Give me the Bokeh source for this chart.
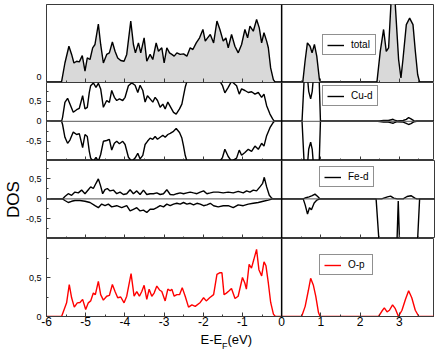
from bokeh.plotting import figure
from bokeh.layouts import column
from bokeh.models import (Span, Legend, LegendItem, FixedTicker, CustomJSTickFormatter,
                          Label, Range1d)
from bokeh.embed import file_html
from bokeh.resources import INLINE

FONT = "Liberation Sans"

# ---------------- data ----------------
total_x = [-6.0, -5.658, -5.615, -5.530, -5.428, -5.359, -5.300, -5.231, -5.163, -5.087, -5.018,
           -4.959, -4.890, -4.822, -4.763, -4.677, -4.618, -4.549, -4.464, -4.396, -4.319, -4.251,
           -4.183, -4.106, -4.021, -3.953, -3.850, -3.782, -3.731, -3.654, -3.595, -3.509, -3.441,
           -3.356, -3.288, -3.202, -3.143, -3.058, -2.998, -2.930, -2.861, -2.802, -2.742, -2.674,
           -2.589, -2.503, -2.418, -2.333, -2.265, -2.179, -2.094, -2.009, -1.949, -1.890, -1.821,
           -1.736, -1.651, -1.576, -1.491, -1.423, -1.363, -1.278, -1.193, -1.108, -1.022, -0.937,
           -0.869, -0.809, -0.724, -0.639, -0.571, -0.511, -0.451, -0.383, -0.340, -0.281, -0.212,
           -0.161, 0.538, 0.597, 0.657, 0.725, 0.776, 0.836, 0.896, 0.964, 0.998, 2.430, 2.516,
           2.601, 2.669, 2.729, 2.788, 2.840, 2.899, 2.984, 3.044, 3.095, 3.181, 3.266, 3.351,
           3.411, 3.470, 3.522, 3.9]
total_y = [0, 0, 0.05, 1.0, 1.86, 1.44, 1.0, 1.09, 1.06, 1.38, 0.58,
           1.26, 1.18, 1.78, 1.95, 3.0, 1.95, 1.0, 1.44, 1.52, 2.08, 1.6,
           1.26, 1.13, 1.09, 1.44, 3.15, 1.95, 1.52, 2.03, 1.52, 2.29, 1.09,
           1.44, 1.18, 2.03, 1.6, 1.78, 1.0, 1.78, 1.52, 1.44, 1.35, 1.52,
           1.44, 1.47, 1.35, 1.78, 1.69, 2.03, 2.29, 2.72, 2.12, 2.29, 2.46,
           2.03, 3.15, 2.72, 2.12, 2.29, 1.78, 2.46, 1.86, 1.52, 1.95, 2.72,
           2.29, 2.89, 2.63, 3.23, 2.8, 2.03, 2.55, 2.12, 1.78, 0.75, 0.15,
           0, 0, 1.09, 2.03, 1.86, 1.52, 1.95, 1.35, 0.15, 0, 0, 1.6,
           2.72, 1.6, 1.78, 4.0, 4.6, 4.0, 1.18, 0.24, 1.18, 2.97, 3.3, 2.97,
           1.6, 0.41, 0, 0]

cud_x = [-6.0, -5.615, -5.590, -5.530, -5.462, -5.402, -5.317, -5.231, -5.163, -5.078, -5.018,
         -4.959, -4.908, -4.873, -4.805, -4.737, -4.677, -4.618, -4.549, -4.464, -4.396, -4.336,
         -4.268, -4.208, -4.140, -4.055, -3.995, -3.910, -3.825, -3.740, -3.671, -3.612, -3.543,
         -3.484, -3.424, -3.356, -3.288, -3.228, -3.168, -3.100, -3.032, -2.972, -2.904, -2.844,
         -2.759, -2.691, -2.606, -2.546, -2.503, -2.461, -2.401, -2.3, -2.1, -1.9, -1.75,
         -1.576, -1.508, -1.449, -1.363, -1.278, -1.150, -1.082, -1.022, -0.937, -0.852, -0.767,
         -0.681, -0.596, -0.511, -0.451, -0.383, -0.298, -0.230, -0.187,
         0.52, 0.57, 0.61, 0.65, 0.69, 0.74, 0.78, 0.82, 0.88, 0.93, 0.96, 0.99,
         2.45, 2.6, 2.72, 2.8, 2.84, 2.88, 2.95, 3.1, 3.18, 3.24, 3.3, 3.38, 3.45, 3.9]
cud_up = [0, 0, 0.1, 0.475, 0.575, 0.43, 0.225, 0.29, 0.325, 0.64, 0.31,
          0.35, 0.725, 0.89, 0.96, 0.85, 0.95, 0.81, 0.35, 0.52, 0.475, 0.77,
          0.6, 0.52, 0.56, 0.52, 0.6, 0.89, 0.96, 0.9, 0.72, 0.9, 0.77,
          0.48, 0.64, 0.56, 0.48, 0.6, 0.52, 0.35, 0.43, 0.31, 0.48, 0.375,
          0.225, 0.18, 0.31, 0.43, 0.64, 0.85, 1.05, 1.3, 1.4, 1.3, 1.1,
          1.0, 0.89, 0.71, 0.85, 1.0, 0.89, 0.68, 0.81, 0.77, 0.72, 0.74,
          0.68, 0.72, 0.6, 0.68, 0.39, 0.18, 0.06, 0,
          0, 0.97, 1.4, 1.2, 0.75, 0.56, 0.75, 1.2, 1.5, 1.2, 0.97, 0,
          0, 0.02, 0.02, 0.04, 0.05, 0.03, 0.01, 0.02, 0.05, 0.09, 0.06, 0.01, 0, 0]
cud_dn = [0, 0, -0.08, -0.40, -0.55, -0.47, -0.27, -0.33, -0.31, -0.66, -0.33,
          -0.38, -0.75, -0.92, -1.0, -0.90, -1.0, -0.83, -0.50, -0.48, -0.45, -0.72,
          -0.55, -0.50, -0.56, -0.50, -0.58, -0.90, -1.0, -0.92, -0.80, -0.94, -0.85,
          -0.58, -0.50, -0.42, -0.45, -0.38, -0.45, -0.40, -0.35, -0.40, -0.33, -0.30,
          -0.25, -0.18, -0.28, -0.42, -0.62, -0.85, -1.05, -1.3, -1.4, -1.3, -1.1,
          -1.0, -0.90, -0.70, -0.88, -1.0, -0.92, -0.72, -0.85, -0.78, -0.70, -0.75,
          -0.62, -0.70, -0.55, -0.62, -0.36, -0.16, -0.05, 0,
          0, -0.97, -1.4, -1.2, -0.7, -0.52, -0.7, -1.2, -1.5, -1.2, -0.97, 0,
          0, -0.02, -0.02, -0.04, -0.05, -0.03, -0.01, -0.02, -0.05, -0.08, -0.06, -0.01, 0, 0]

fed_up_x = [-6.0, -5.590, -5.530, -5.445, -5.359, -5.274, -5.189, -5.104, -5.018, -4.933, -4.873,
            -4.805, -4.737, -4.677, -4.618, -4.567, -4.507, -4.447, -4.379, -4.294, -4.208, -4.123,
            -4.038, -3.953, -3.867, -3.782, -3.697, -3.612, -3.526, -3.441, -3.356, -3.271, -3.185,
            -3.100, -3.015, -2.930, -2.844, -2.759, -2.674, -2.589, -2.503, -2.418, -2.333, -2.248,
            -2.162, -2.077, -1.992, -1.907, -1.821, -1.736, -1.619, -1.491, -1.363, -1.235, -1.108,
            -0.980, -0.894, -0.809, -0.724, -0.639, -0.554, -0.485, -0.443, -0.383, -0.315, -0.255,
            -0.213, 0.55, 0.62, 0.70, 0.78, 0.85, 0.92, 0.98,
            2.55, 2.7, 2.78, 2.86, 2.95, 3.1, 3.2, 3.3, 3.4, 3.45, 3.9]
fed_up = [0, 0, 0.06, 0.13, 0.09, 0.17, 0.15, 0.22, 0.13, 0.23, 0.30,
          0.26, 0.39, 0.50, 0.32, 0.13, 0.23, 0.26, 0.20, 0.22, 0.13, 0.17,
          0.11, 0.13, 0.23, 0.13, 0.20, 0.11, 0.22, 0.11, 0.13, 0.13, 0.15,
          0.11, 0.13, 0.23, 0.11, 0.10, 0.13, 0.15, 0.13, 0.15, 0.17, 0.15,
          0.13, 0.17, 0.20, 0.13, 0.15, 0.17, 0.17, 0.15, 0.17, 0.15, 0.19,
          0.15, 0.20, 0.17, 0.22, 0.20, 0.30, 0.39, 0.54, 0.30, 0.09, 0.02,
          0, 0, 0.03, 0.05, 0.08, 0.12, 0.06, 0,
          0, 0.05, 0.07, 0.02, 0, 0, 0.06, 0.08, 0.02, 0, 0]

fed_dn_x = [-6.0, -5.590, -5.530, -5.445, -5.359, -5.274, -5.146, -5.018, -4.890, -4.763, -4.677,
            -4.592, -4.507, -4.422, -4.336, -4.208, -4.081, -3.953, -3.867, -3.782, -3.697, -3.612,
            -3.526, -3.441, -3.356, -3.271, -3.185, -3.100, -3.015, -2.930, -2.844, -2.759, -2.674,
            -2.589, -2.503, -2.418, -2.333, -2.248, -2.162, -2.077, -1.992, -1.907, -1.821, -1.736,
            -1.619, -1.491, -1.363, -1.235, -1.108, -0.980, -0.852, -0.724, -0.596, -0.469, -0.341,
            -0.230, 0.55, 0.60, 0.66, 0.71, 0.76, 0.83, 0.90, 0.97,
            2.41, 2.48, 2.6, 2.75, 2.9, 2.945, 2.975, 3.005, 3.1, 3.25, 3.4, 3.47, 3.52, 3.9]
fed_dn = [0, 0, -0.04, -0.09, -0.06, -0.04, -0.04, -0.06, -0.09, -0.17, -0.22,
          -0.13, -0.17, -0.13, -0.20, -0.17, -0.22, -0.17, -0.30, -0.26, -0.22, -0.30,
          -0.28, -0.34, -0.26, -0.26, -0.22, -0.17, -0.20, -0.13, -0.17, -0.13, -0.11,
          -0.13, -0.09, -0.13, -0.11, -0.15, -0.11, -0.13, -0.17, -0.15, -0.11, -0.17,
          -0.20, -0.17, -0.17, -0.22, -0.15, -0.17, -0.13, -0.11, -0.09, -0.06, -0.03,
          0, 0, -0.15, -0.38, -0.22, -0.27, -0.10, -0.03, 0,
          0, -1.0, -1.8, -2.2, -1.8, -1.0, -0.05, -1.0, -2.0, -2.4, -1.8, -1.0, 0, 0]

op_x = [-6.0, -5.615, -5.487, -5.419, -5.359, -5.291, -5.214, -5.146, -5.078, -5.0, -4.933,
        -4.873, -4.805, -4.754, -4.677, -4.618, -4.549, -4.464, -4.396, -4.319, -4.251, -4.183,
        -4.106, -4.021, -3.953, -3.842, -3.765, -3.697, -3.629, -3.569, -3.509, -3.441, -3.381,
        -3.313, -3.254, -3.185, -3.117, -3.058, -2.972, -2.904, -2.844, -2.802, -2.742, -2.674,
        -2.606, -2.537, -2.461, -2.376, -2.290, -2.205, -2.077, -1.992, -1.924, -1.838, -1.736,
        -1.651, -1.583, -1.523, -1.47, -1.41, -1.34, -1.28, -1.19, -1.11, -1.00, -0.94,
        -0.90, -0.83, -0.77, -0.71, -0.64, -0.58, -0.51, -0.45, -0.40, -0.34, -0.28, -0.21,
        -0.16, 0.51, 0.60, 0.68, 0.74, 0.81, 0.87, 0.94, 0.98,
        2.47, 2.56, 2.62, 2.69, 2.75, 2.83, 2.90, 2.98, 3.07, 3.16, 3.24, 3.32, 3.41, 3.50, 3.9]
op_y = [0, 0, 0.175, 0.41, 0.24, 0.12, 0.175, 0.18, 0.22, 0.09, 0.175,
        0.2, 0.3, 0.28, 0.45, 0.28, 0.21, 0.26, 0.27, 0.41, 0.32, 0.24,
        0.25, 0.175, 0.26, 0.55, 0.26, 0.32, 0.26, 0.32, 0.40, 0.22, 0.35,
        0.26, 0.30, 0.39, 0.34, 0.32, 0.20, 0.35, 0.33, 0.35, 0.26, 0.28,
        0.28, 0.37, 0.26, 0.12, 0.15, 0.13, 0.18, 0.24, 0.20, 0.24, 0.28,
        0.54, 0.56, 0.56, 0.28, 0.30, 0.33, 0.36, 0.23, 0.26, 0.50, 0.43,
        0.35, 0.67, 0.62, 0.73, 0.86, 0.60, 0.52, 0.70, 0.65, 0.43, 0.18, 0.03,
        0, 0, 0.13, 0.33, 0.49, 0.40, 0.26, 0.05, 0,
        0, 0.07, 0.11, 0.06, 0.08, 0.15, 0.10, 0.0, 0.08, 0.22, 0.33, 0.24, 0.08, 0, 0]

x_major = [-6, -5, -4, -3, -2, -1, 0, 1, 2, 3]
x_minor = [-5.5, -4.5, -3.5, -2.5, -1.5, -0.5, 0.5, 1.5, 2.5, 3.5]
legend_names = ["total", "Cu-d", "Fe-d", "O-p"]
x_label_parts = ["E-E", "F", "(eV)"]
y_label = "DOS"

# ---------------- layout helpers ----------------
x_range = Range1d(-6, 3.9)
FMT = CustomJSTickFormatter(code="return tick.toString().replace('.', ',');")
FRAME_COLOR = "#3a3a3a"
LEFT = 43
FRAME_W = 388


def panel(frame_h, yr, yticks, yminor, bottom=False, top_border=0):
    p = figure(frame_width=FRAME_W, frame_height=frame_h, x_range=x_range, y_range=Range1d(*yr),
               output_backend="svg", toolbar_location=None,
               min_border_left=LEFT, min_border_right=3, min_border_top=top_border,
               min_border_bottom=15 if bottom else 0)
    p.xgrid.visible = False
    p.ygrid.visible = False
    p.outline_line_color = FRAME_COLOR
    p.outline_line_width = 1
    p.background_fill_color = "white"
    p.border_fill_color = "white"
    for ax in (p.xaxis[0], p.yaxis[0]):
        ax.major_tick_in = 4
        ax.major_tick_out = 0
        ax.minor_tick_in = 2
        ax.minor_tick_out = 0
        ax.axis_line_color = FRAME_COLOR
        ax.major_tick_line_color = FRAME_COLOR
        ax.minor_tick_line_color = FRAME_COLOR
        ax.major_label_text_font = FONT
        ax.major_label_text_color = "black"
        ax.formatter = FMT
    p.xaxis.ticker = FixedTicker(ticks=x_major, minor_ticks=x_minor)
    p.yaxis.ticker = FixedTicker(ticks=yticks, minor_ticks=yminor)
    p.yaxis.major_label_text_font_size = "9px"
    p.yaxis.major_label_standoff = 5
    if bottom:
        p.xaxis.major_label_text_font_size = "12px"
        p.xaxis.major_label_standoff = 0
    else:
        p.xaxis.major_label_text_font_size = "0px"
        p.xaxis.major_label_text_color = None
        p.xaxis.major_label_standoff = 0
    return p


def add_legend(p, renderer, name, loc):
    leg = Legend(items=[LegendItem(label=name, renderers=[renderer])], location=loc,
                 margin=0, padding=4, spacing=0, glyph_width=17, glyph_height=10,
                 label_height=10, label_standoff=7, label_text_font=FONT,
                 label_text_font_size="10px", label_text_color="black",
                 border_line_color="#222222", border_line_width=1,
                 background_fill_color="white", background_fill_alpha=1.0)
    p.add_layout(leg)


def vline(p):
    p.add_layout(Span(location=0, dimension="height", line_color="black", line_width=1.5))


def zline(p):
    p.add_layout(Span(location=0, dimension="width", line_color="#555555", line_width=1))


# panel 1: total
p1 = panel(78, (0, 4.0), [0], [], top_border=4)
p1.varea(x=total_x, y1=0, y2=total_y, fill_color="#d9d9d9")
r1 = p1.line(total_x, total_y, line_color="black", line_width=1.4)
vline(p1)
add_legend(p1, r1, legend_names[0], (276, 27))

# panel 2: Cu-d
p2 = panel(78, (-0.98, 0.97), [-0.5, 0, 0.5], [-0.75, -0.25, 0.25, 0.75])
zline(p2)
r2 = p2.line(cud_x, cud_up, line_color="black", line_width=1.4)
p2.line(cud_x, cud_dn, line_color="black", line_width=1.4)
vline(p2)
add_legend(p2, r2, legend_names[1], (276, 54))

# panel 3: Fe-d (carries the DOS axis label)
p3 = panel(78, (-0.99, 0.96), [-0.5, 0, 0.5], [-0.75, -0.25, 0.25, 0.75])
zline(p3)
r3 = p3.line(fed_up_x, fed_up, line_color="black", line_width=1.4)
p3.line(fed_dn_x, fed_dn, line_color="black", line_width=1.4)
vline(p3)
add_legend(p3, r3, legend_names[2], (273, 51))
p3.yaxis.axis_label = y_label
p3.yaxis.axis_label_text_font = FONT
p3.yaxis.axis_label_text_font_size = "17px"
p3.yaxis.axis_label_text_font_style = "normal"
p3.yaxis.axis_label_text_color = "black"
p3.yaxis.axis_label_standoff = 0

# panel 4: O-p
p4 = panel(78, (0, 1.0), [0, 0.5], [0.25, 0.75], bottom=True)
r4 = p4.line(op_x, op_y, line_color="red", line_width=1.4)
vline(p4)
add_legend(p4, r4, legend_names[3], (273, 41))

# strip under the plots holding the x-axis title (E-E_F(eV), with subscript F)
p5 = figure(frame_width=FRAME_W, frame_height=21, x_range=x_range, y_range=Range1d(0, 1),
            output_backend="svg", toolbar_location=None,
            x_axis_location=None, y_axis_location=None,
            min_border_left=LEFT, min_border_right=3, min_border_top=0, min_border_bottom=0)
p5.outline_line_color = None
p5.xgrid.visible = False
p5.ygrid.visible = False
for txt, xs, ys, fs in [(x_label_parts[0], 154, 21, "13px"),
                        (x_label_parts[1], 175.5, 12, "9px"),
                        (x_label_parts[2], 181, 21, "13px")]:
    p5.add_layout(Label(x=xs, y=ys, x_units="screen", y_units="screen", text=txt,
                        text_align="left", text_baseline="top",
                        text_font=FONT, text_font_size=fs, text_color="black"))

layout = column(p1, p2, p3, p4, p5, spacing=0)
open("out.html", "w").write(file_html(layout, INLINE))
